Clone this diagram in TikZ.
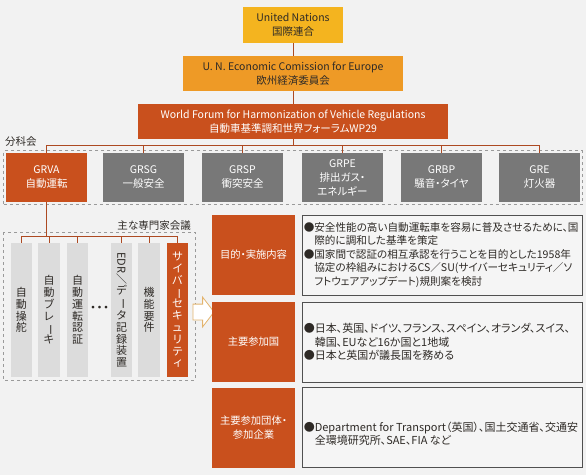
\documentclass[tikz,border=0pt]{standalone}
\usepackage{fontspec}
\setmainfont{Noto Sans CJK JP}[RawFeature=+palt]
\usepackage{graphicx}
\usetikzlibrary{arrows.meta,positioning,shapes.arrows,fit,calc}

\definecolor{pagebg}{HTML}{F2F2F2}
\definecolor{unyellow}{HTML}{F4B41F}
\definecolor{eceorange}{HTML}{EE9A26}
\definecolor{wpred}{HTML}{C9501D}
\definecolor{grpgray}{HTML}{787878}
\definecolor{colgray}{HTML}{DCDCDC}
\definecolor{linkred}{HTML}{AD4A22}
\definecolor{framegray}{HTML}{9A9A9A}
\definecolor{boxedge}{HTML}{505050}
\definecolor{boxfill}{HTML}{F5F5F5}
\definecolor{darktext}{HTML}{2E2A26}
\definecolor{arrowedge}{HTML}{E3B46E}

% vertical long vowel mark for tategaki columns
\newcommand{\tatebar}{\rotatebox[origin=c]{-90}{ー}}

\begin{document}
\begin{tikzpicture}[x=1pt, y=-1pt,
  topbox/.style={minimum height=36pt, align=center, inner sep=0pt, font=\fontsize{10.5}{14}\selectfont},
  grp/.style={fill=grpgray, text=white, minimum width=81pt, minimum height=49pt, align=center, inner sep=0pt, font=\fontsize{10.5}{14}\selectfont},
  link/.style={draw=linkred, line width=1pt},
  dashframe/.style={draw=framegray, dashed, line width=0.8pt},
  col/.style={fill=colgray, text=darktext, minimum width=21.5pt, minimum height=134pt, inner sep=0pt, align=center, font=\fontsize{11}{11.8}\selectfont},
  lbl/.style={fill=wpred, text=white, minimum width=83pt, minimum height=80pt, align=center, inner sep=0pt, font=\fontsize{10.3}{13.5}\selectfont},
  infobox/.style={draw=boxedge, fill=boxfill, line width=0.9pt, minimum width=280pt, minimum height=80pt, inner sep=0pt},
  infotext/.style={align=left, inner sep=0pt, text=darktext, font=\fontsize{11}{13.5}\selectfont},
  tag/.style={inner sep=0pt, text=darktext, font=\fontsize{10.5}{13}\selectfont}]
\fill[pagebg] (0,0) rectangle (586,475);
\useasboundingbox (0,0) rectangle (586,475);

% top of the hierarchy
\node[topbox, fill=unyellow, text=darktext, minimum width=100pt] (un) at (293,25) {United Nations\\国際連合};
\node[topbox, fill=eceorange, text=darktext, minimum width=220pt, minimum height=35pt] (unece) at (293,73.5) {U. N. Economic Comission for Europe\\欧州経済委員会};
\node[topbox, fill=wpred, text=white, minimum width=310pt, minimum height=35pt] (wp29) at (293,121.5) {World Forum for Harmonization of Vehicle Regulations\\自動車基準調和世界フォーラムWP29};
\draw[link] (un) -- (unece);
\draw[link] (unece) -- (wp29);

% working parties
\node[tag, anchor=west] (wplabel) at (5,142) {分科会};
\node[grp, fill=wpred] (grva) at (46.5,177.5) {GRVA\\自動運転};
\node[grp] (grsg) at (143.5,177.5) {GRSG\\一般安全};
\node[grp] (grsp) at (242.5,177.5) {GRSP\\衝突安全};
\node[grp] (grpe) at (342.5,177.5) {GRPE\\排出ガス・\\エネルギー};
\node[grp] (grbp) at (441.5,177.5) {GRBP\\騒音・タイヤ};
\node[grp] (gre) at (539.5,177.5) {GRE\\灯火器};
\node[dashframe, fit=(grva)(gre), inner sep=2pt] (wpframe) {};
\foreach \g in {grva,grsg,grsp,grpe,grbp,gre}
  \draw[link] (wp29.south) -- ++(0,6) -| (\g.north);

% expert groups under GRVA
\draw[dashframe] (3,232) rectangle (195,380);
\node[tag, anchor=east] (exlabel) at (191,226) {主な専門家会議};
\node[col] (c1) at (21.5,310) {自\\動\\操\\舵};
\node[col] (c2) at (49,310) {自\\動\\ブ\\レ\\\tatebar\\キ};
\node[col] (c3) at (77.5,310) {自\\動\\運\\転\\認\\証};
\node[text=darktext, inner sep=0pt, font=\fontsize{13}{13}\selectfont] (dots) at (99.5,309) {・・・};
\node[col] (c4) at (121.5,310) {\rotatebox[origin=c]{-90}{EDR／}\\デ\\\tatebar\\タ\\記\\録\\装\\置};
\node[col] (c5) at (149,310) {機\\能\\要\\件};
\node[col, fill=wpred, text=white] (c6) at (177.5,310) {サ\\イ\\バ\\\tatebar\\セ\\キ\\ュ\\リ\\テ\\ィ};
\foreach \c in {c1,c2,c3,c4,c5,c6}
  \draw[link] (grva.south) -- ++(0,34) -| (\c.north);

\node[single arrow, draw=arrowedge, fill=white, line width=0.8pt, minimum height=21pt, minimum width=29pt,
  single arrow head extend=7pt, single arrow tip angle=105, inner xsep=0pt, inner ysep=7.5pt] (push) at (200.5,312) {};

% details of the cyber security group
\node[lbl] (l1) at (253.5,255) {目的・実施内容};
\node[lbl] (l2) at (253.5,342) {主要参加国};
\node[lbl] (l3) at (253.5,427.5) {主要参加団体・\\参加企業};
\node[infobox] (i1) at (442,255) {};
\node[infobox] (i2) at (442,342) {};
\node[infobox] (i3) at (442,427.5) {};
\node[infotext, font=\fontsize{10.6}{13.5}\selectfont, right=2pt of i1.west] (t1) {●安全性能の高い自動運転車を容易に普及させるために、国\\\hphantom{●}際的に調和した基準を策定\\●国家間で認証の相互承認を行うことを目的とした1958年\\\hphantom{●}協定の枠組みにおけるCS／SU(サイバーセキュリティ／ソ\\\hphantom{●}フトウェアアップデート)規則案を検討};
\node[infotext, right=2pt of i2.west] (t2) {●日本、英国、ドイツ、フランス、スペイン、オランダ、スイス、\\\hphantom{●}韓国、EUなど16か国と1地域\\●日本と英国が議長国を務める};
\node[infotext, right=2pt of i3.west, yshift=-6pt] (t3) {●Department for Transport（英国）、国土交通省、交通安\\\hphantom{●}全環境研究所、SAE、FIA など};
\end{tikzpicture}
\end{document}
